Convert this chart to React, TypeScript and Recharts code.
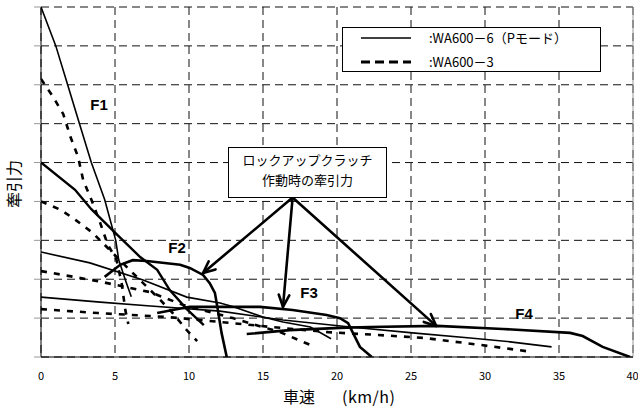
import { LineChart, Line, XAxis, YAxis, CartesianGrid, ReferenceLine, ReferenceDot } from 'recharts';

// 車速 (km/h) / 牽引力 (grid units, no scale labels)
const xTicks = [0, 5, 10, 15, 20, 25, 30, 35, 40];
const yTicks = [0, 1, 2, 3, 4, 5, 6, 7, 8, 9];

// WA600-6 (Pモード) — solid
const f1ConvX = [0, 1.0, 1.8, 2.6, 3.4, 4.3, 5.05, 5.25, 5.7, 6.1];
const f1ConvY = [9.0, 8.0, 7.0, 6.0, 5.0, 4.05, 3.0, 2.5, 1.98, 1.55];
const f2ConvX = [0, 2.3, 3.4, 5.0, 6.7, 7.85, 8.7, 9.85, 11.0];
const f2ConvY = [5.0, 4.3, 3.8, 3.2, 2.57, 2.24, 1.72, 1.23, 0.82];
const f2LockX = [4.3, 5.35, 6.2, 7.15, 9.4, 10.05, 10.95, 11.4, 11.75, 11.95, 12.2, 12.55];
const f2LockY = [2.06, 2.37, 2.49, 2.47, 2.37, 2.29, 2.11, 1.9, 1.65, 1.21, 0.62, 0];
const f3ConvX = [0, 3.3, 6.9, 9.85, 12.1, 13.0, 15.0, 16.35, 18.2, 19.6];
const f3ConvY = [2.7, 2.42, 1.98, 1.54, 1.39, 1.29, 1.03, 0.9, 0.77, 0.47];
const f3LockX = [7.85, 10.05, 14.8, 17.0, 19.3, 20.2, 20.75, 21.55, 22.35];
const f3LockY = [1.13, 1.29, 1.29, 1.21, 1.08, 1.0, 0.87, 0.26, 0];
const f4ConvX = [0, 4.0, 7.4, 12.1, 16.35, 20.9, 25.1, 29.0, 31.7, 34.5];
const f4ConvY = [1.54, 1.41, 1.31, 1.18, 0.95, 0.77, 0.62, 0.49, 0.39, 0.26];
const f4LockX = [13.9, 16.8, 20.2, 22.2, 26.75, 31.2, 35.75, 36.6, 37.95, 39.8];
const f4LockY = [0.59, 0.69, 0.75, 0.77, 0.8, 0.72, 0.62, 0.54, 0.26, 0];

// WA600-3 — dashed
const f1OldX = [0, 0.8, 1.5, 2.0, 2.5, 2.85, 3.4, 4.0, 4.5, 5.1, 5.45, 5.7, 5.9];
const f1OldY = [7.15, 6.7, 6.25, 5.65, 5.15, 4.55, 4.05, 3.45, 2.9, 2.5, 1.9, 1.2, 0.85];
const f2OldX = [0, 1.35, 2.35, 3.5, 4.65, 5.8, 6.9, 8.05, 8.9, 9.85, 10.55];
const f2OldY = [4.0, 3.78, 3.52, 3.19, 2.75, 2.31, 1.9, 1.47, 1.13, 0.69, 0.41];
const f3OldX = [0, 3.85, 7.35, 9.6, 12.95, 16.15, 18.5];
const f3OldY = [2.21, 1.95, 1.67, 1.34, 1.0, 0.64, 0.26];
const f4OldX = [0, 3.85, 8.5, 12.95, 15.6, 19.4, 22.6, 25.9, 29.7, 33.2];
const f4OldY = [1.23, 1.13, 1.03, 0.87, 0.77, 0.64, 0.57, 0.49, 0.31, 0.13];

// gear labels and lock-up arrows (data coords)
const gearNames = ['F1', 'F2', 'F3', 'F4'];
const gearLabelX = [3.92, 9.19, 18.11, 32.64];
const gearLabelY = [6.5, 2.8, 1.65, 1.11];
const arrowFrom = { x: 17.0, y: 4.1 };
const arrowToX = [10.95, 16.35, 26.7];
const arrowToY = [2.16, 1.29, 0.8];

const zip = (xs: number[], ys: number[]) => xs.map((x, i) => ({ x, y: ys[i] }));

const solidSeries = [
  { key: 'f1c', data: zip(f1ConvX, f1ConvY), w: 1.6 },
  { key: 'f2c', data: zip(f2ConvX, f2ConvY), w: 2.4 },
  { key: 'f2l', data: zip(f2LockX, f2LockY), w: 2.6 },
  { key: 'f3c', data: zip(f3ConvX, f3ConvY), w: 1.6 },
  { key: 'f3l', data: zip(f3LockX, f3LockY), w: 2.6 },
  { key: 'f4c', data: zip(f4ConvX, f4ConvY), w: 1.6 },
  { key: 'f4l', data: zip(f4LockX, f4LockY), w: 2.6 },
];
const dashedSeries = [
  { key: 'f1o', data: zip(f1OldX, f1OldY) },
  { key: 'f2o', data: zip(f2OldX, f2OldY) },
  { key: 'f3o', data: zip(f3OldX, f3OldY) },
  { key: 'f4o', data: zip(f4OldX, f4OldY) },
];

const FONT = '"Noto Sans CJK JP", "Noto Sans", sans-serif';

function Arrow(props: any) {
  const { x1, y1, x2, y2 } = props;
  const a = Math.atan2(y2 - y1, x2 - x1);
  const len = 13;
  const spread = 0.42;
  const p1 = [x2 - len * Math.cos(a - spread), y2 - len * Math.sin(a - spread)];
  const p2 = [x2 - len * Math.cos(a + spread), y2 - len * Math.sin(a + spread)];
  return (
    <g stroke="#000" strokeWidth={2.6} fill="none" strokeLinecap="round" strokeLinejoin="round">
      <line x1={x1} y1={y1} x2={x2} y2={y2} />
      <polyline points={`${p1[0]},${p1[1]} ${x2},${y2} ${p2[0]},${p2[1]}`} />
    </g>
  );
}

export default function App() {
  return (
    <div style={{ position: 'absolute', left: 0, top: 0, width: 638, height: 407, background: '#fff', fontFamily: FONT }}>
      <LineChart width={638} height={407} margin={{ top: 7, right: 5, bottom: 0, left: 0 }}>
        <CartesianGrid stroke="#111" strokeDasharray="8 5" />
        <XAxis
          dataKey="x"
          type="number"
          domain={[0, 40]}
          ticks={xTicks}
          height={50}
          stroke="#000"
          tickLine={false}
          tickSize={0}
          tickMargin={15}
          tick={{ fill: '#000', fontSize: 11, fontFamily: FONT }}
          allowDataOverflow
        />
        <YAxis
          type="number"
          domain={[0, 9]}
          ticks={yTicks}
          width={41}
          stroke="#000"
          tickLine={{ stroke: '#999' }}
          tickSize={7}
          tickFormatter={() => ''}
          allowDataOverflow
        />
        <ReferenceLine x={40} stroke="#999" />
        {solidSeries.map((s) => (
          <Line
            key={s.key}
            data={s.data}
            dataKey="y"
            stroke="#000"
            strokeWidth={s.w}
            dot={false}
            type="linear"
            isAnimationActive={false}
          />
        ))}
        {dashedSeries.map((s) => (
          <Line
            key={s.key}
            data={s.data}
            dataKey="y"
            stroke="#000"
            strokeWidth={2.6}
            strokeDasharray="6 7"
            dot={false}
            type="linear"
            isAnimationActive={false}
          />
        ))}
        {arrowToX.map((x, i) => (
          <ReferenceLine
            key={'arr' + i}
            segment={[arrowFrom, { x, y: arrowToY[i] }]}
            ifOverflow="visible"
            shape={Arrow}
          />
        ))}
        {gearNames.map((g, i) => (
          <ReferenceDot
            key={g}
            x={gearLabelX[i]}
            y={gearLabelY[i]}
            r={0}
            fill="none"
            stroke="none"
            label={{ value: g, position: 'center', fontSize: 15, fontWeight: 700, fill: '#000', fontFamily: 'Arial, "Liberation Sans", sans-serif' }}
          />
        ))}
      </LineChart>

      {/* legend */}
      <div
        style={{
          position: 'absolute', left: 342, top: 27, width: 257, height: 43,
          border: '1px solid #000', background: '#fff', fontSize: 13, color: '#000',
        }}
      >
        <svg width={60} height={44} style={{ position: 'absolute', left: 16, top: 0 }}>
          <line x1={2} y1={10} x2={52} y2={10} stroke="#000" strokeWidth={1.6} />
          <line x1={2} y1={34} x2={52} y2={34} stroke="#000" strokeWidth={2.8} strokeDasharray="9 5" />
        </svg>
        <div style={{ position: 'absolute', left: 86, top: 1, lineHeight: '18px', whiteSpace: 'nowrap' }}>:WA600－6（Pモード）</div>
        <div style={{ position: 'absolute', left: 86, top: 25, lineHeight: '18px', whiteSpace: 'nowrap' }}>:WA600－3</div>
      </div>

      {/* lock-up annotation */}
      <div
        style={{
          position: 'absolute', left: 228, top: 147, width: 157, height: 46,
          border: '1px solid #000', background: '#fff', fontSize: 13, lineHeight: '20px',
          textAlign: 'center', color: '#000', paddingTop: 3, boxSizing: 'content-box',
        }}
      >
        <div style={{ marginTop: -1 }}>ロックアップクラッチ</div>
        <div>作動時の牽引力</div>
      </div>

      {/* axis titles */}
      <div style={{ position: 'absolute', left: 283, top: 384, fontSize: 16, whiteSpace: 'nowrap', color: '#000' }}>
        車速
      </div>
      <div style={{ position: 'absolute', left: 342, top: 384, fontSize: 16, whiteSpace: 'nowrap', color: '#000', letterSpacing: 0.5 }}>
        (km/h)
      </div>
      <div
        style={{
          position: 'absolute', left: 13, top: 184, fontSize: 16, whiteSpace: 'nowrap', color: '#000',
          transform: 'translate(-50%, -50%) rotate(-90deg)',
        }}
      >
        牽引力
      </div>
    </div>
  );
}
